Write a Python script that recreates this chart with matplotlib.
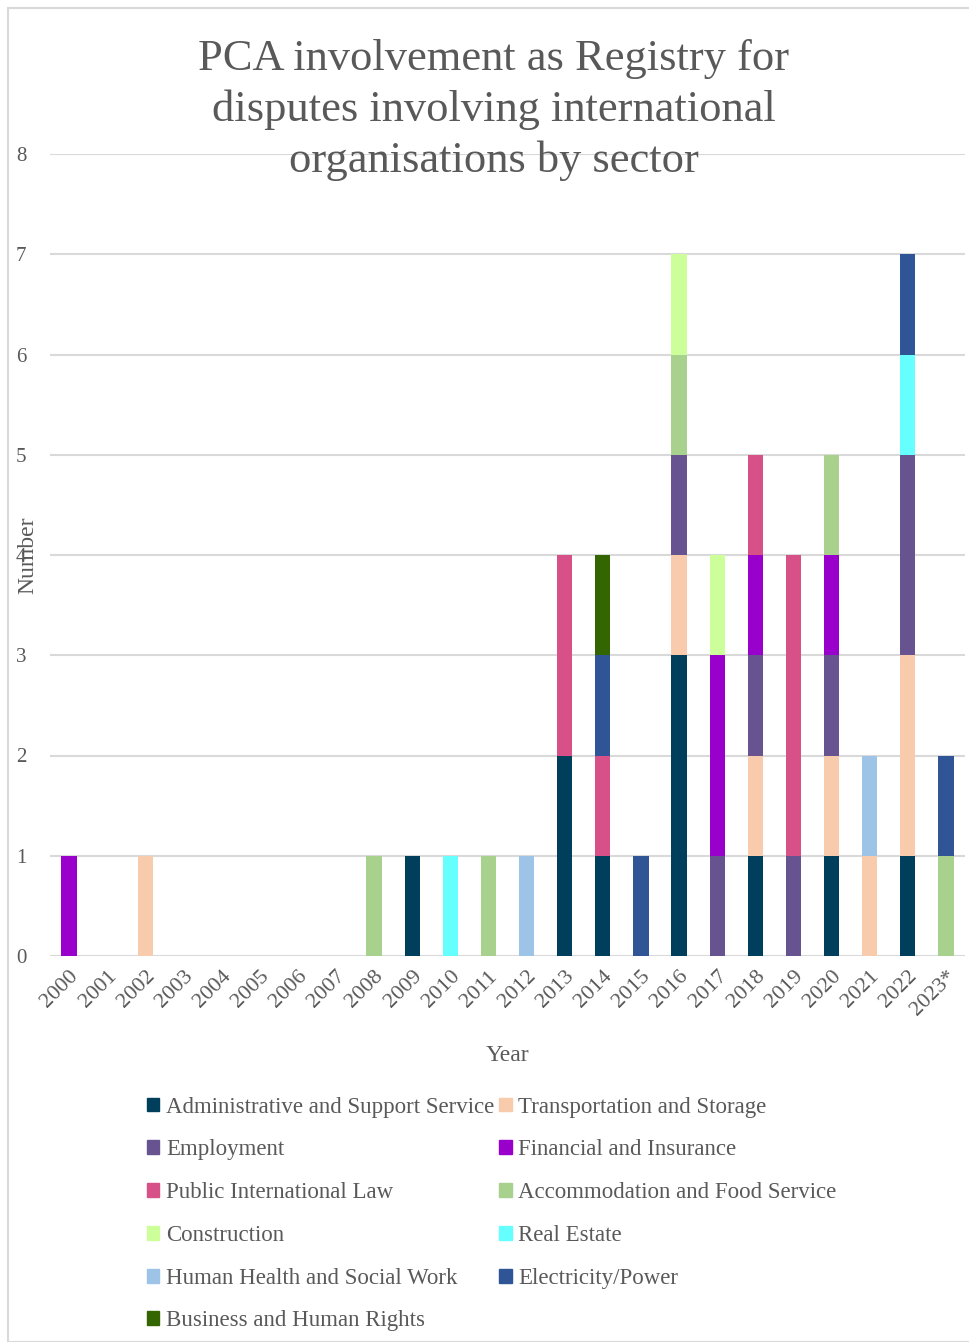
import matplotlib.pyplot as plt
import numpy as np
from matplotlib.patches import Rectangle, Patch

plt.rcParams['font.family'] = ['Liberation Serif', 'DejaVu Serif']

years = [str(y) for y in range(2000, 2023)] + ['2023*']

sectors = ['Administrative and Support Service', 'Transportation and Storage',
           'Employment', 'Financial and Insurance', 'Public International Law',
           'Accommodation and Food Service', 'Construction', 'Real Estate',
           'Human Health and Social Work', 'Electricity/Power',
           'Business and Human Rights']
colors = ['#003F5C', '#F8CBAD', '#67538F', '#9900CC', '#D75087',
          '#A9D18E', '#CCFF99', '#66FFFF', '#9DC3E6', '#2F5597', '#336600']

#           00 01 02 03 04 05 06 07 08 09 10 11 12 13 14 15 16 17 18 19 20 21 22 23
admin =    [0, 0, 0, 0, 0, 0, 0, 0, 0, 1, 0, 0, 0, 2, 1, 0, 3, 0, 1, 0, 1, 0, 1, 0]
transport = [0, 0, 1, 0, 0, 0, 0, 0, 0, 0, 0, 0, 0, 0, 0, 0, 1, 0, 1, 0, 1, 1, 2, 0]
employment = [0, 0, 0, 0, 0, 0, 0, 0, 0, 0, 0, 0, 0, 0, 0, 0, 1, 1, 1, 1, 1, 0, 2, 0]
financial = [1, 0, 0, 0, 0, 0, 0, 0, 0, 0, 0, 0, 0, 0, 0, 0, 0, 2, 1, 0, 1, 0, 0, 0]
pil =      [0, 0, 0, 0, 0, 0, 0, 0, 0, 0, 0, 0, 0, 2, 1, 0, 0, 0, 1, 3, 0, 0, 0, 0]
accommodation = [0, 0, 0, 0, 0, 0, 0, 0, 1, 0, 0, 1, 0, 0, 0, 0, 1, 0, 0, 0, 1, 0, 0, 1]
construction = [0, 0, 0, 0, 0, 0, 0, 0, 0, 0, 0, 0, 0, 0, 0, 0, 1, 1, 0, 0, 0, 0, 0, 0]
real_estate = [0, 0, 0, 0, 0, 0, 0, 0, 0, 0, 1, 0, 0, 0, 0, 0, 0, 0, 0, 0, 0, 0, 1, 0]
health =   [0, 0, 0, 0, 0, 0, 0, 0, 0, 0, 0, 0, 1, 0, 0, 0, 0, 0, 0, 0, 0, 1, 0, 0]
power =    [0, 0, 0, 0, 0, 0, 0, 0, 0, 0, 0, 0, 0, 0, 1, 1, 0, 0, 0, 0, 0, 0, 1, 1]
business = [0, 0, 0, 0, 0, 0, 0, 0, 0, 0, 0, 0, 0, 0, 1, 0, 0, 0, 0, 0, 0, 0, 0, 0]

series = [admin, transport, employment, financial, pil, accommodation,
          construction, real_estate, health, power, business]

grey = '#595959'

fig = plt.figure(figsize=(9.69, 13.42), dpi=100)
fig.patches.append(Rectangle((8 / 969, 0), 1, 1 - 8 / 1342, transform=fig.transFigure,
                             fill=False, edgecolor='#D9D9D9', linewidth=1.5))
ax = fig.add_axes([50 / 969, 1 - 956 / 1342, 915 / 969, 802 / 1342])

x = np.arange(len(years))
bottom = np.zeros(len(years))
for vals, c in zip(series, colors):
    vals = np.array(vals)
    ax.bar(x, vals, 0.4, bottom=bottom, color=c, zorder=3)
    bottom += vals

ax.set_xlim(-0.5, len(years) - 0.5)
ax.set_ylim(0, 8)
ax.set_yticks(range(9))
ax.yaxis.grid(True, color='#D9D9D9', linewidth=1.5, zorder=0)
for s in ax.spines.values():
    s.set_visible(False)
ax.tick_params(length=0, colors=grey, labelsize=15)
ax.tick_params(axis='y', pad=17)
ax.set_xticks(x)
ax.set_xticklabels(years, rotation=45, ha='right', rotation_mode='anchor', fontsize=16)
ax.tick_params(axis='x', pad=8)

ax.set_xlabel('Year', color=grey, fontsize=17, labelpad=18)
fig.text(28 / 969, 1 - 555 / 1342, 'Number', rotation=90, color=grey, fontsize=17,
         ha='center', va='center')

fig.text(494 / 969, 1 - 110 / 1342,
         'PCA involvement as Registry for\ndisputes involving international\norganisations by sector',
         ha='center', va='center', color=grey, fontsize=32, linespacing=1.33)

handles = [Patch(color=c, label=l) for c, l in zip(colors, sectors)]
order = [0, 2, 4, 6, 8, 10, 1, 3, 5, 7, 9]
fig.legend([handles[i] for i in order], [sectors[i] for i in order], ncol=2,
           loc='upper left', bbox_to_anchor=(126 / 969, 1 - 1076 / 1342),
           frameon=False, fontsize=16.5, labelcolor=grey, handlelength=0.55,
           handleheight=0.55, handletextpad=0.3, columnspacing=0.2,
           labelspacing=0.95)

fig.savefig('out.png', dpi=100)
